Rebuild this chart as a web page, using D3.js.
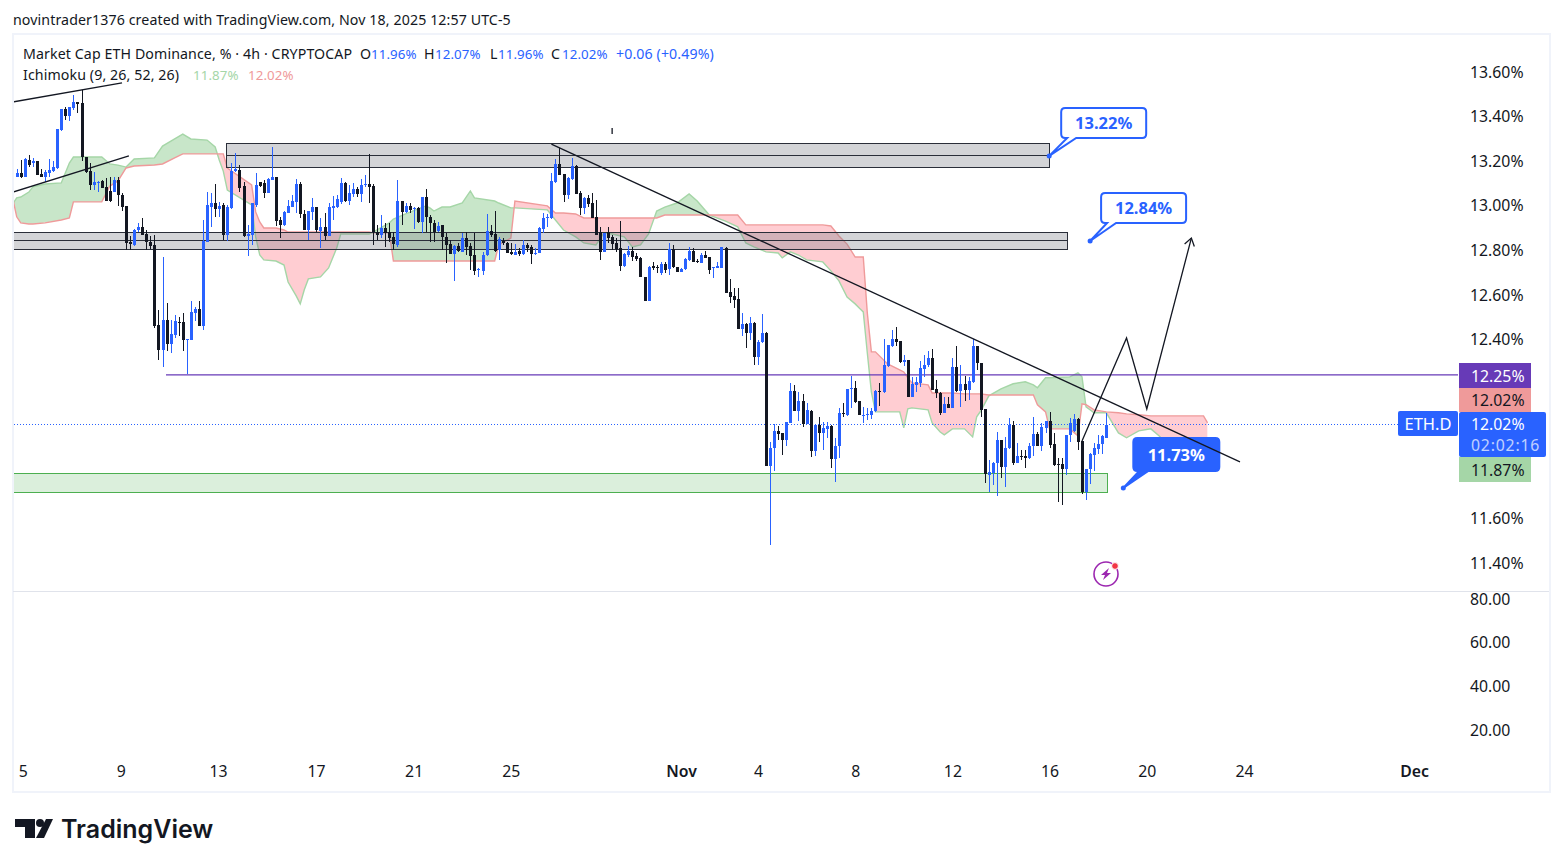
<!DOCTYPE html>
<html>
<head>
<meta charset="utf-8">
<script src="https://cdn.jsdelivr.net/npm/d3@7"></script>
<style>
  body { margin: 0; background: #fff; }
  text { font-family: "Noto Sans", sans-serif; fill: #131722; }
</style>
</head>
<body>
<svg id="chart" width="1563" height="867"></svg>
<script>
// candles, 4h bars
const opens = [
13.131,13.146,13.131,13.206,13.191,13.200,13.143,13.131,13.149,13.157,
13.169,13.340,13.433,13.403,13.438,13.464,13.460,13.218,13.157,13.094,
13.105,13.112,13.084,13.067,13.064,13.114,13.048,13.000,12.840,12.824,
12.890,12.905,12.873,12.840,12.825,12.467,12.355,12.489,12.382,12.422,
12.482,12.482,12.397,12.400,12.519,12.539,12.463,12.840,12.997,13.012,
12.987,13.002,12.870,12.990,13.158,13.161,13.087,12.863,12.870,13.005,
13.105,13.102,13.060,13.117,13.128,12.937,12.915,12.970,12.996,13.019,
13.099,12.964,12.893,12.973,12.994,12.887,12.905,12.866,12.991,12.997,
13.019,13.104,13.023,13.053,13.074,13.053,13.094,13.097,13.089,12.882,
12.870,12.900,12.882,12.859,12.825,13.022,12.974,13.000,12.986,12.989,
12.929,13.038,12.949,12.922,12.888,12.914,12.859,12.828,12.785,12.820,
12.795,12.855,12.820,12.779,12.713,12.710,12.779,12.888,12.874,12.803,
12.844,12.835,12.794,12.780,12.800,12.785,12.825,12.814,12.785,12.791,
12.897,12.949,12.944,13.106,13.186,13.143,13.049,13.119,13.179,13.056,
12.989,13.034,13.012,12.949,12.882,12.795,12.882,12.859,12.835,12.813,
12.731,12.780,12.800,12.776,12.768,12.683,12.576,12.731,12.725,12.701,
12.740,12.716,12.806,12.725,12.705,12.716,12.758,12.800,12.755,12.746,
12.780,12.770,12.722,12.720,12.720,12.813,12.615,12.597,12.583,12.450,
12.471,12.432,12.474,12.325,12.388,12.429,11.835,11.914,11.993,11.981,
11.949,12.029,12.171,12.083,12.126,12.023,12.082,11.902,12.019,11.981,
12.002,12.016,11.867,11.925,12.073,12.064,12.180,12.183,12.126,12.062,
12.065,12.064,12.079,12.171,12.164,12.283,12.373,12.404,12.395,12.302,
12.310,12.146,12.198,12.205,12.270,12.285,12.319,12.180,12.161,12.074,
12.113,12.096,12.277,12.171,12.202,12.176,12.213,12.373,12.295,12.089,
11.796,11.802,11.847,11.951,11.829,11.914,12.018,11.850,11.880,11.880,
11.869,11.926,11.978,11.926,12.007,12.038,11.932,11.844,11.844,11.821,
11.974,11.993,12.045,11.947,11.717,11.820,11.884,11.911,11.933,11.96];

const highs = [
13.164,13.206,13.214,13.227,13.214,13.202,13.164,13.161,13.211,13.199,
13.345,13.433,13.445,13.445,13.497,13.467,13.520,13.221,13.191,13.152,
13.112,13.114,13.124,13.131,13.128,13.128,13.057,13.000,12.863,12.896,
12.922,12.945,12.893,12.863,12.870,12.534,12.773,12.564,12.489,12.512,
12.504,12.519,12.403,12.572,12.549,12.572,12.937,13.061,13.057,13.099,
13.019,13.012,13.005,13.194,13.236,13.184,13.105,12.915,13.012,13.146,
13.109,13.114,13.124,13.263,13.131,12.952,12.975,13.027,13.049,13.120,
13.108,12.982,12.979,13.034,12.994,12.948,12.967,13.012,13.045,13.049,
13.124,13.109,13.094,13.101,13.086,13.119,13.138,13.233,13.098,12.914,
12.959,12.922,12.922,12.885,13.116,13.022,13.015,13.015,12.994,12.997,
13.041,13.076,12.959,12.937,12.929,12.914,12.877,12.847,12.825,12.832,
12.877,12.885,12.832,12.877,12.720,12.795,12.964,12.914,12.977,12.859,
12.858,12.840,12.832,12.829,12.810,12.847,12.835,12.825,12.810,12.904,
12.967,12.964,13.146,13.209,13.258,13.143,13.131,13.213,13.183,13.068,
13.041,13.049,13.056,13.026,12.907,12.880,12.907,12.870,12.855,12.932,
12.791,12.820,12.817,12.791,12.773,12.683,12.731,12.750,12.735,12.750,
12.750,12.832,12.825,12.725,12.720,12.765,12.817,12.810,12.761,12.788,
12.800,12.773,12.728,12.750,12.817,12.814,12.671,12.631,12.631,12.522,
12.474,12.504,12.482,12.397,12.514,12.437,11.943,12.023,12.014,11.981,
12.032,12.205,12.198,12.165,12.158,12.116,12.086,12.019,12.056,12.032,
12.034,12.019,11.959,12.093,12.119,12.180,12.238,12.216,12.126,12.098,
12.093,12.096,12.176,12.205,12.404,12.377,12.444,12.456,12.395,12.332,
12.310,12.235,12.235,12.305,12.332,12.352,12.358,12.220,12.164,12.146,
12.146,12.317,12.373,12.288,12.238,12.235,12.403,12.373,12.295,12.089,
11.862,11.854,11.989,11.951,11.966,12.048,12.038,11.936,11.907,11.907,
11.936,12.053,11.989,12.029,12.038,12.078,11.981,11.869,11.869,11.974,
12.048,12.068,12.048,11.948,11.820,11.892,11.936,11.974,11.974,12.07];

const lows = [
13.128,13.124,13.128,13.176,13.176,13.137,13.128,13.105,13.131,13.154,
13.166,13.334,13.385,13.381,13.430,13.415,13.199,13.149,13.072,13.072,
13.064,13.081,13.021,13.018,13.061,13.000,12.979,12.803,12.803,12.821,
12.885,12.869,12.803,12.806,12.455,12.310,12.280,12.352,12.343,12.407,
12.415,12.352,12.246,12.397,12.486,12.460,12.445,12.840,12.907,12.952,
12.952,12.848,12.843,12.987,13.154,13.064,12.860,12.776,12.825,12.997,
13.084,13.034,13.057,13.117,12.912,12.855,12.912,12.967,12.993,12.967,
12.945,12.890,12.848,12.937,12.885,12.810,12.848,12.863,12.937,12.990,
13.009,13.019,13.004,13.038,13.038,13.019,13.083,13.012,12.825,12.847,
12.855,12.814,12.840,12.803,12.817,12.914,12.967,12.967,12.898,12.922,
12.877,12.885,12.840,12.840,12.885,12.803,12.743,12.785,12.665,12.795,
12.795,12.780,12.713,12.691,12.683,12.691,12.776,12.859,12.795,12.758,
12.825,12.788,12.780,12.780,12.776,12.780,12.795,12.740,12.780,12.788,
12.877,12.907,12.940,13.101,13.138,13.019,13.031,13.116,13.053,12.959,
12.964,12.994,12.944,12.868,12.758,12.795,12.832,12.803,12.795,12.710,
12.725,12.773,12.755,12.755,12.680,12.576,12.576,12.713,12.701,12.691,
12.698,12.691,12.720,12.705,12.705,12.713,12.755,12.750,12.743,12.743,
12.765,12.695,12.676,12.720,12.720,12.608,12.567,12.541,12.450,12.417,
12.362,12.397,12.288,12.288,12.385,11.835,11.481,11.810,11.949,11.884,
11.925,12.026,12.079,12.037,12.011,12.023,11.877,11.880,11.940,11.907,
11.959,11.825,11.765,11.870,12.056,12.059,12.093,12.119,12.061,12.026,
12.041,12.046,12.076,12.104,12.161,12.280,12.367,12.373,12.295,12.283,
12.146,12.143,12.168,12.190,12.232,12.280,12.173,12.141,12.064,12.071,
12.093,12.093,12.164,12.101,12.126,12.131,12.208,12.265,12.053,11.760,
11.717,11.750,11.702,11.780,11.742,11.910,11.839,11.847,11.862,11.827,
11.866,11.880,11.924,11.904,11.984,11.914,11.836,11.675,11.660,11.795,
11.944,11.989,11.907,11.708,11.683,11.754,11.814,11.889,11.887,11.96];

const closes = [
13.146,13.131,13.211,13.184,13.202,13.139,13.131,13.152,13.161,13.175,
13.343,13.433,13.403,13.442,13.467,13.458,13.218,13.154,13.094,13.106,
13.109,13.081,13.024,13.022,13.117,13.049,12.997,12.833,12.830,12.893,
12.905,12.870,12.840,12.821,12.463,12.355,12.489,12.382,12.427,12.486,
12.479,12.397,12.403,12.525,12.537,12.463,12.843,13.002,13.015,12.987,
13.000,12.870,12.997,13.155,13.164,13.079,12.863,12.875,13.012,13.094,
13.091,13.060,13.121,13.128,12.933,12.915,12.972,13.000,13.022,13.099,
12.963,12.893,12.976,12.994,12.890,12.905,12.866,12.994,13.000,13.030,
13.101,13.023,13.059,13.074,13.053,13.094,13.097,13.086,12.882,12.870,
12.903,12.877,12.858,12.829,13.022,12.974,13.000,12.982,12.989,12.929,
13.038,12.949,12.925,12.885,12.912,12.859,12.825,12.785,12.820,12.800,
12.855,12.817,12.776,12.710,12.716,12.779,12.888,12.870,12.800,12.850,
12.832,12.791,12.783,12.795,12.785,12.825,12.813,12.785,12.791,12.901,
12.944,12.952,13.112,13.186,13.138,13.049,13.127,13.179,13.053,12.989,
13.034,13.009,12.944,12.870,12.795,12.880,12.858,12.829,12.806,12.731,
12.783,12.800,12.773,12.762,12.683,12.576,12.728,12.720,12.720,12.740,
12.713,12.806,12.725,12.705,12.716,12.761,12.800,12.750,12.750,12.780,
12.768,12.713,12.725,12.731,12.814,12.611,12.594,12.579,12.450,12.471,
12.432,12.474,12.325,12.391,12.432,11.835,11.916,11.992,11.980,11.949,
12.032,12.171,12.083,12.126,12.023,12.086,11.902,12.019,11.981,12.004,
12.014,11.867,11.925,12.071,12.070,12.180,12.183,12.120,12.061,12.065,
12.068,12.082,12.171,12.167,12.288,12.377,12.404,12.392,12.299,12.310,
12.146,12.204,12.210,12.274,12.288,12.319,12.176,12.161,12.071,12.113,
12.096,12.277,12.171,12.202,12.176,12.214,12.373,12.295,12.086,11.799,
11.806,11.847,11.951,11.829,11.914,12.018,11.850,11.880,11.874,11.869,
11.926,11.978,11.926,12.008,12.038,11.929,11.839,11.842,11.821,11.974,
12.029,12.045,11.944,11.717,11.820,11.889,11.917,11.933,11.969,12.02];

// ichimoku cloud, sampled where the edges bend
const cloudBars = [-1,0,1,3,4,7,11,13,14,21,23,25,27,29,34,36,39,41,43,47,49,50,51,52,58,59,60,61,64,66,67,69,70,71,72,75,77,79,80,87,88,92,93,96,99,101,102,103,105,107,110,112,113,118,119,122,123,131,133,135,138,140,143,145,147,150,152,154,156,158,160,163,166,168,171,175,178,180,182,185,188,189,191,193,195,199,201,203,205,207,208,209,210,211,212,215,218,219,220,221,225,226,228,229,231,234,236,237,238,240,243,246,249,251,252,254,255,260,262,263,264,266,269,272,274,277,280,282,283,293,294];
const senkouA = [13.009,13.036,13.040,13.062,13.085,13.098,13.103,13.192,13.219,13.219,13.188,13.183,13.174,13.210,13.215,13.268,13.300,13.322,13.300,13.295,13.264,13.206,13.156,13.071,13.004,12.861,12.780,12.758,12.753,12.735,12.659,12.597,12.561,12.624,12.673,12.682,12.722,12.811,12.874,12.874,12.883,12.924,12.941,12.964,12.986,13.000,12.991,12.977,12.995,12.995,13.013,13.067,13.036,13.022,13.013,12.991,12.991,12.982,12.937,12.892,12.861,12.834,12.825,12.879,12.874,12.861,12.816,12.825,12.874,12.977,12.995,13.013,13.054,13.022,12.959,12.932,12.906,12.834,12.816,12.794,12.789,12.767,12.794,12.780,12.758,12.749,12.709,12.664,12.592,12.561,12.543,12.525,12.341,12.167,12.077,12.077,12.077,12.006,12.091,12.095,12.086,12.028,11.987,11.974,12.001,12.001,11.965,12.055,12.081,12.149,12.180,12.203,12.212,12.198,12.185,12.230,12.230,12.234,12.252,12.234,12.100,12.073,12.073,11.983,11.961,11.992,12.001,11.970,11.952,11.875,11.871];
const senkouB = [13.036,12.951,12.924,12.919,12.919,12.924,12.937,12.946,13.018,13.018,13.089,13.112,13.170,13.179,13.183,13.188,13.215,13.233,13.233,13.233,13.233,13.233,13.233,13.170,13.094,12.973,12.928,12.901,12.901,12.892,12.883,12.883,12.883,12.883,12.883,12.883,12.883,12.883,12.883,12.883,12.879,12.879,12.753,12.753,12.753,12.753,12.753,12.753,12.753,12.753,12.753,12.753,12.753,12.753,12.825,12.856,13.022,13.000,12.968,12.968,12.964,12.946,12.946,12.946,12.946,12.946,12.946,12.946,12.946,12.946,12.959,12.959,12.959,12.959,12.959,12.959,12.959,12.915,12.915,12.915,12.915,12.915,12.915,12.915,12.915,12.915,12.910,12.865,12.829,12.771,12.771,12.771,12.520,12.346,12.346,12.292,12.265,12.256,12.230,12.207,12.198,12.162,12.162,12.162,12.162,12.158,12.158,12.158,12.158,12.153,12.153,12.153,12.153,12.153,12.109,12.077,12.001,12.001,11.970,12.113,12.109,12.086,12.077,12.073,12.068,12.064,12.059,12.059,12.059,12.059,12.028];

// axis labels
const priceTicks = [13.6,13.4,13.2,13.0,12.8,12.6,12.4,11.6,11.4];
const lowerTicks = [80,60,40,20];
const dateTickBars = [1.5,25.7,49.7,73.9,98,122,164,183,207,231,255,279,303,345];
const dateLabels = ["5","9","13","17","21","25","Nov","4","8","12","16","20","24","Dec"];

// drawings: [bar, price]
const trendLines = [
  [[-0.9,13.466],[26,13.551]],
  [[-0.9,13.062],[27.7,13.224]],
  [[132,13.277],[302,11.853]],
  [[147,13.349],[147,13.322]]
];
const projection = [[263,11.947],[274,12.408],[279,12.090],[290,12.856]];
const greyZones = [[51.7,255.1,13.280,13.228,13.170],[-0.9,259.3,12.881,12.843,12.803]];
const greenZone = [-0.9,269.2,11.803,11.718];
const calloutBars = [254.9,265,273.2];
const calloutPrices = [13.224,12.843,11.736];
const calloutTexts = ["13.22%","12.84%","11.73%"];
const supportPrice = 12.243;
const lastPrice = 12.02;

//--------------------------------------------------------------------------------------

const svg = d3.select("#chart");

const x = d3.scaleLinear().domain([0, 269]).range([16.7, 1106.3]);
const y = d3.scaleLinear().domain([13.6, 11.4]).range([72, 563]);
const yLower = d3.scaleLinear().domain([80, 20]).range([599, 730]);

const blue = "#2962ff";
const black = "#131722";

const plotRight = 1458;

// frame
svg.append("rect").attr("x", 13).attr("y", 34).attr("width", 1537).attr("height", 758)
  .attr("fill", "none").attr("stroke", "#f0f3fa").attr("stroke-width", 2);
svg.append("line").attr("x1", 13).attr("x2", 1549).attr("y1", 591.5).attr("y2", 591.5)
  .attr("stroke", "#e0e3eb");

const defs = svg.append("defs");
defs.append("clipPath").attr("id", "plotClip").append("rect")
  .attr("x", 14).attr("y", 35).attr("width", plotRight - 14).attr("height", 556);

const cloudData = cloudBars.map((b, i) => ({ b: b, a: senkouA[i], s: senkouB[i] }));

const aboveB = d3.area().x(d => x(d.b)).y0(d => y(d.s)).y1(0);
const belowB = d3.area().x(d => x(d.b)).y0(d => y(d.s)).y1(867);
defs.append("clipPath").attr("id", "greenClip").append("path").attr("d", aboveB(cloudData));
defs.append("clipPath").attr("id", "redClip").append("path").attr("d", belowB(cloudData));

const plot = svg.append("g").attr("clip-path", "url(#plotClip)");

// cloud
const cloudArea = d3.area().x(d => x(d.b)).y0(d => y(d.a)).y1(d => y(d.s));
plot.append("g").attr("clip-path", "url(#greenClip)").append("path")
  .attr("d", cloudArea(cloudData)).attr("fill", "#c8e6c9");
plot.append("g").attr("clip-path", "url(#redClip)").append("path")
  .attr("d", cloudArea(cloudData)).attr("fill", "#ffcdd2");
plot.append("path").attr("fill", "none").attr("stroke", "#a5d6a7").attr("stroke-width", 1.4)
  .attr("d", d3.line().x(d => x(d.b)).y(d => y(d.a))(cloudData));
plot.append("path").attr("fill", "none").attr("stroke", "#ef9a9a").attr("stroke-width", 1.4)
  .attr("d", d3.line().x(d => x(d.b)).y(d => y(d.s))(cloudData));

// zones
greyZones.forEach(z => {
  plot.append("rect").attr("x", x(z[0])).attr("width", x(z[1]) - x(z[0]))
    .attr("y", y(z[2])).attr("height", y(z[4]) - y(z[2]))
    .attr("fill", "#787b86").attr("fill-opacity", 0.33)
    .attr("stroke", "#2a2e39").attr("shape-rendering", "crispEdges");
  plot.append("line").attr("x1", x(z[0])).attr("x2", x(z[1]))
    .attr("y1", y(z[3])).attr("y2", y(z[3]))
    .attr("stroke", "#2a2e39").attr("shape-rendering", "crispEdges");
});
plot.append("rect").attr("x", x(greenZone[0])).attr("width", x(greenZone[1]) - x(greenZone[0]))
  .attr("y", y(greenZone[2])).attr("height", y(greenZone[3]) - y(greenZone[2]))
  .attr("fill", "#4caf50").attr("fill-opacity", 0.2)
  .attr("stroke", "#4caf50").attr("shape-rendering", "crispEdges");

// price lines
plot.append("line").attr("x1", 166).attr("x2", plotRight)
  .attr("y1", y(supportPrice)).attr("y2", y(supportPrice))
  .attr("stroke", "#673ab7").attr("stroke-width", 1.2);
plot.append("line").attr("x1", 14).attr("x2", 1398)
  .attr("y1", y(lastPrice)).attr("y2", y(lastPrice))
  .attr("stroke", blue).attr("stroke-dasharray", "1 2").attr("shape-rendering", "crispEdges");

// candles
const candles = plot.append("g").selectAll("g").data(opens).join("g")
  .attr("shape-rendering", "crispEdges");
candles.append("line")
  .attr("x1", (d, i) => Math.round(x(i)) + 0.5).attr("x2", (d, i) => Math.round(x(i)) + 0.5)
  .attr("y1", (d, i) => y(highs[i])).attr("y2", (d, i) => y(lows[i]))
  .attr("stroke", (d, i) => closes[i] >= opens[i] ? blue : black);
candles.append("rect")
  .attr("x", (d, i) => Math.round(x(i)) - 1).attr("width", 3)
  .attr("y", (d, i) => y(Math.max(opens[i], closes[i])))
  .attr("height", (d, i) => Math.max(1, Math.abs(y(opens[i]) - y(closes[i]))))
  .attr("fill", (d, i) => closes[i] >= opens[i] ? blue : black);

// callouts
const boxOffsets = [[12, 97, -48, -18], [11, 96, -48, -18], [10, 96, -50, -17]];
calloutTexts.forEach((t, i) => {
  const px = x(calloutBars[i]), py = y(calloutPrices[i]);
  const o = boxOffsets[i];
  const filled = i == 2;
  const l = px + o[0], r = px + o[1], top = py + o[2], bot = py + o[3], rad = 4;
  const p = d3.path();
  p.moveTo(l + rad, top);
  p.lineTo(r - rad, top);
  p.quadraticCurveTo(r, top, r, top + rad);
  p.lineTo(r, bot - rad);
  p.quadraticCurveTo(r, bot, r - rad, bot);
  p.lineTo(l + 15, bot);
  p.lineTo(px, py);
  p.lineTo(l + 6, bot);
  p.lineTo(l + rad, bot);
  p.quadraticCurveTo(l, bot, l, bot - rad);
  p.lineTo(l, top + rad);
  p.quadraticCurveTo(l, top, l + rad, top);
  p.closePath();
  plot.append("path").attr("d", p.toString())
    .attr("fill", filled ? blue : "#fff").attr("stroke", blue).attr("stroke-width", 2);
  plot.append("circle").attr("cx", px).attr("cy", py).attr("r", 2.5).attr("fill", blue);
  plot.append("text").attr("x", (l + r) / 2).attr("y", (top + bot) / 2 + 6)
    .attr("text-anchor", "middle").attr("font-size", 16.5).attr("font-weight", 700)
    .style("fill", filled ? "#fff" : blue).text(t);
});

// drawings
const drawLine = d3.line().x(d => x(d[0])).y(d => y(d[1]));
trendLines.forEach(t => {
  plot.append("path").attr("d", drawLine(t)).attr("fill", "none").attr("stroke", black).attr("stroke-width", 1.3);
});
plot.append("path").attr("d", drawLine(projection)).attr("fill", "none").attr("stroke", black).attr("stroke-width", 1.3);

// arrow head on the projection
const tip = projection[projection.length - 1];
const prev = projection[projection.length - 2];
const ang = Math.atan2(y(tip[1]) - y(prev[1]), x(tip[0]) - x(prev[0]));
const head = [ang + 2.55, ang - 2.55].map(a => [x(tip[0]) + 9 * Math.cos(a), y(tip[1]) + 9 * Math.sin(a)]);
plot.append("path").attr("fill", "none").attr("stroke", black).attr("stroke-width", 1.3)
  .attr("d", d3.line()([head[0], [x(tip[0]), y(tip[1])], head[1]]));

// axes
const rightAxis = d3.axisRight(y).tickValues(priceTicks).tickSize(0).tickPadding(12)
  .tickFormat(d => d3.format(".2f")(d) + "%");
const lowerAxis = d3.axisRight(yLower).tickValues(lowerTicks).tickSize(0).tickPadding(12)
  .tickFormat(d3.format(".2f"));
const bottomAxis = d3.axisBottom(x).tickValues(dateTickBars).tickSize(0).tickPadding(0)
  .tickFormat((d, i) => dateLabels[i]);

[svg.append("g").attr("transform", `translate(${plotRight},0)`).call(rightAxis),
 svg.append("g").attr("transform", `translate(${plotRight},0)`).call(lowerAxis),
 svg.append("g").attr("transform", "translate(0,765.5)").call(bottomAxis)].forEach(g => {
  g.select(".domain").remove();
  g.selectAll("text").attr("font-family", null).style("font-size", "15.8px");
});
svg.selectAll("g.tick text").filter(function() { return this.textContent == "Nov" || this.textContent == "Dec"; })
  .style("font-weight", 600);

// price labels
const priceBoxes = [
  { y0: 363, y1: 388, w: 72, fill: "#673ab7", txt: "12.25%", col: "#fff" },
  { y0: 388, y1: 412, w: 72, fill: "#ef9a9a", txt: "12.02%", col: black },
  { y0: 457, y1: 482, w: 72, fill: "#a5d6a7", txt: "11.87%", col: black }
];
priceBoxes.forEach(b => {
  svg.append("rect").attr("x", 1459).attr("y", b.y0).attr("width", b.w).attr("height", b.y1 - b.y0)
    .attr("fill", b.fill);
  svg.append("text").attr("x", 1471).attr("y", (b.y0 + b.y1) / 2 + 6).attr("font-size", 15.8)
    .style("fill", b.col).text(b.txt);
});
svg.append("rect").attr("x", 1459).attr("y", 412).attr("width", 87).attr("height", 45).attr("fill", blue).attr("rx", 2);
svg.append("text").attr("x", 1471).attr("y", 430).attr("font-size", 15.8).style("fill", "#fff").text("12.02%");
svg.append("text").attr("x", 1471).attr("y", 451).attr("font-size", 15.8).attr("letter-spacing", 0.8)
  .style("fill", "#fff").style("opacity", 0.7).text("02:02:16");
svg.append("rect").attr("x", 1398).attr("y", 411).attr("width", 60).attr("height", 25).attr("fill", blue).attr("rx", 2);
svg.append("text").attr("x", 1428).attr("y", 429.5).attr("text-anchor", "middle").attr("font-size", 16.5)
  .style("fill", "#fff").text("ETH.D");

// header texts
function label(tx, ty, t, col, size) {
  svg.append("text").attr("x", tx).attr("y", ty).attr("font-size", size || 14.2).attr("letter-spacing", 0.1)
    .style("fill", col || black).text(t);
}
label(13, 25, "novintrader1376 created with TradingView.com, Nov 18, 2025 12:57 UTC-5");
label(23, 59, "Market Cap ETH Dominance, % · 4h · CRYPTOCAP");
label(360, 59, "O"); label(371, 59, "11.96%", blue, 13.3);
label(424, 59, "H"); label(435, 59, "12.07%", blue, 13.3);
label(490, 59, "L"); label(498, 59, "11.96%", blue, 13.3);
label(551, 59, "C"); label(562, 59, "12.02%", blue, 13.3);
label(616, 59, "+0.06 (+0.49%)", blue);
label(23, 80, "Ichimoku (9, 26, 52, 26)");
label(193, 80, "11.87%", "#a5d6a7", 13.3);
label(248, 80, "12.02%", "#ef9a9a", 13.3);

// lightning icon
const icon = svg.append("g").attr("transform", "translate(1106,574)");
icon.append("circle").attr("r", 12).attr("fill", "none").attr("stroke", "#9c27b0").attr("stroke-width", 1.6);
icon.append("path").attr("d", "M3,-6 L-5,1 L-1,1 L-3,6 L5,-1 L1,-1 Z").attr("fill", "#9c27b0");
icon.append("circle").attr("cx", 9).attr("cy", -8).attr("r", 3.4).attr("fill", "#f23645").attr("stroke", "#fff");

// logo
const logo = svg.append("g").attr("fill", "#131722");
logo.append("path").attr("d", "M15,819 H35 V838 H25 V827 H15 Z");
logo.append("circle").attr("cx", 40).attr("cy", 823).attr("r", 4);
logo.append("path").attr("d", "M46,819 H53 L44,838 H36 Z");
svg.append("text").attr("x", 61).attr("y", 838).attr("font-size", 25).attr("font-weight", 600)
  .style("font-family", "Inter").text("TradingView");
</script>
</body>
</html>
